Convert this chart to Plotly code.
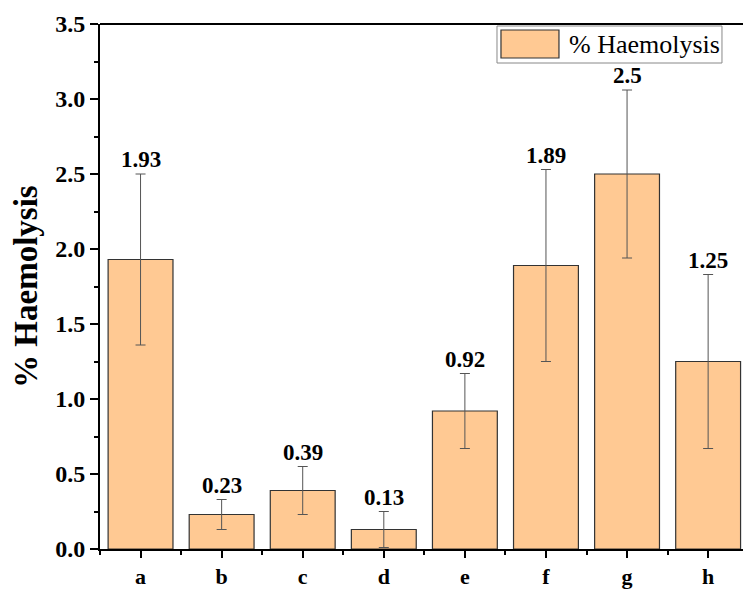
import plotly.graph_objects as go

# Haemolysis results per sample
categories = ["a", "b", "c", "d", "e", "f", "g", "h"]
haemolysis = [1.93, 0.23, 0.39, 0.13, 0.92, 1.89, 2.5, 1.25]
errors = [0.57, 0.10, 0.16, 0.12, 0.25, 0.64, 0.56, 0.58]
y_ticks = [0.0, 0.5, 1.0, 1.5, 2.0, 2.5, 3.0, 3.5]
series_name = "% Haemolysis"

FONT = "Liberation Serif, Times New Roman, serif"
BAR_FILL = "#FFC993"
BAR_EDGE = "#333333"

positions = list(range(len(categories)))

fig = go.Figure()
fig.add_trace(go.Bar(
    x=positions,
    y=haemolysis,
    width=0.8,
    name=series_name,
    marker=dict(color=BAR_FILL, line=dict(color=BAR_EDGE, width=1.2)),
    error_y=dict(type="data", array=errors, visible=True,
                 color="#555555", thickness=1, width=5),
    showlegend=False,
))

# value labels above each error bar
for xi, v, e in zip(positions, haemolysis, errors):
    fig.add_annotation(
        x=xi, y=v + e, xref="x", yref="y",
        text=f"<b>{v:g}</b>", showarrow=False, yanchor="bottom", yshift=0,
        font=dict(family=FONT, size=23, color="black"),
    )

# top frame line
fig.add_shape(type="line", xref="paper", yref="paper",
              x0=0, x1=1, y0=1, y1=1, line=dict(color="black", width=2))

# legend box drawn in paper space
fig.add_shape(type="rect", xref="paper", yref="paper",
              x0=0.6174, x1=0.9673, y0=0.9257, y1=0.9962,
              line=dict(color="#888888", width=1), fillcolor="white")
fig.add_shape(type="rect", xref="paper", yref="paper",
              x0=0.6236, x1=0.7138, y0=0.9352, y1=0.9886,
              line=dict(color=BAR_EDGE, width=1.2), fillcolor=BAR_FILL)
fig.add_annotation(x=0.7263, y=0.961, xref="paper", yref="paper",
                   text=series_name, showarrow=False,
                   xanchor="left", yanchor="middle",
                   font=dict(family=FONT, size=26, color="black"))

# y-axis title
fig.add_annotation(x=-0.116, y=0.5, xref="paper", yref="paper",
                   text="<b>% Haemolysis</b>", showarrow=False, textangle=-90,
                   xanchor="center", yanchor="middle",
                   font=dict(family=FONT, size=33, color="black"))

fig.update_xaxes(
    range=[-0.5, 7.43],
    tickmode="array", tickvals=positions,
    ticktext=[f"<b>{c}</b>" for c in categories],
    ticks="outside", ticklen=7, tickwidth=1.5, tickcolor="black",
    minor=dict(tick0=0.5, dtick=1, ticks="outside", ticklen=4,
               tickwidth=1.5, tickcolor="black"),
    showline=True, linecolor="black", linewidth=2,
    showgrid=False, zeroline=False, automargin=False,
    tickfont=dict(family=FONT, size=22, color="black"),
)
fig.update_yaxes(
    range=[0, 3.5],
    tickmode="array", tickvals=y_ticks,
    ticktext=[f"<b>{t:.1f}</b>" for t in y_ticks],
    ticks="outside", ticklen=8, tickwidth=1.5, tickcolor="black",
    minor=dict(dtick=0.25, ticks="outside", ticklen=4,
               tickwidth=1.5, tickcolor="black"),
    showline=True, linecolor="black", linewidth=2,
    showgrid=False, zeroline=False, automargin=False,
    tickfont=dict(family=FONT, size=24, color="black"),
)

fig.update_layout(
    width=743, height=592,
    margin=dict(l=100, r=0, t=24, b=43),
    plot_bgcolor="white", paper_bgcolor="white",
    bargap=0.2,
)

fig.write_html("out.html")
